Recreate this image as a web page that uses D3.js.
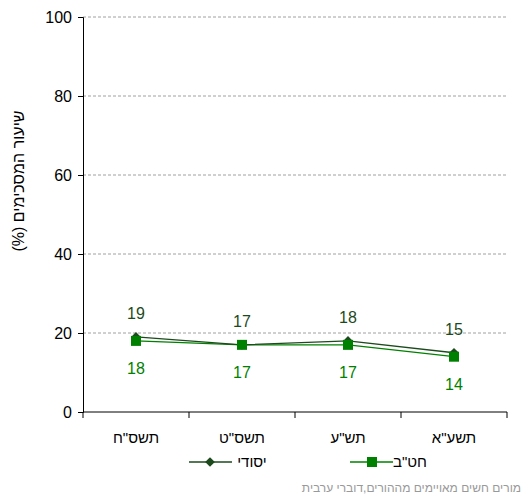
<!DOCTYPE html>
<html><head><meta charset="utf-8">
<script src="https://cdn.jsdelivr.net/npm/d3@7"></script>
<style>body{margin:0;background:#fff}text{font-family:"Liberation Sans",Arial,sans-serif}</style>
</head><body>
<svg id="c" width="524" height="496"></svg>
<script>
const categories = ["תשס\"ח", "תשס\"ט", "תש\"ע", "תשע\"א"];
const seriesNames = ["יסודי", "חט\"ב"];
const yesodi = [19, 17, 18, 15];
const hativa = [18, 17, 17, 14];
const yTicks = [0, 20, 40, 60, 80, 100];
const yTitle = "שיעור המסכימים (%)";
const footnote = "מורים חשים מאויימים מההורים,דוברי ערבית";

const darkC = "#1d4a1d", greenC = "#008000";
const svg = d3.select("#c");
const x = d3.scaleBand().domain(categories).range([83, 507]);
const y = d3.scaleLinear().domain([0, 100]).range([412, 17]);

// grid
svg.append("g").selectAll("line").data(yTicks.filter(d => d > 0)).join("line")
  .attr("x1", 83).attr("x2", 507).attr("y1", d => y(d)).attr("y2", d => y(d))
  .attr("stroke", "#a0a0a0").attr("stroke-dasharray", "3,2").attr("stroke-width", 1);

// y axis
const ya = svg.append("g").attr("transform", "translate(83,0)")
  .call(d3.axisLeft(y).tickValues(yTicks).tickSize(5).tickPadding(6));
ya.select(".domain").attr("stroke", "#000");
ya.selectAll("text").attr("font-size", 16).attr("fill", "#000").attr("font-family", "Liberation Sans, Arial, sans-serif");

// x axis
const xa = svg.append("g").attr("transform", "translate(0,412)");
xa.append("line").attr("x1", 83).attr("x2", 507).attr("stroke", "#000");
const bounds = categories.map(c => x(c)).concat([x(categories[categories.length-1]) + x.bandwidth()]);
xa.selectAll("line.t").data(bounds).join("line").attr("class","t")
  .attr("x1", d => d).attr("x2", d => d).attr("y1", 0).attr("y2", 6).attr("stroke", "#000");
xa.selectAll("text").data(categories).join("text")
  .attr("x", d => x(d) + x.bandwidth()/2).attr("y", 31).attr("text-anchor", "middle")
  .attr("font-size", 15).attr("fill", "#000").text(d => d);

// y title
svg.append("text").attr("transform", "translate(24,181) rotate(-90)").attr("text-anchor", "middle")
  .attr("direction", "rtl").attr("font-size", 16).attr("fill", "#000").text(yTitle);

const cx = d => x(d) + x.bandwidth()/2;
const line = d3.line().x((d,i) => cx(categories[i])).y(d => y(d));

// hativa (green squares)
svg.append("path").datum(hativa).attr("d", line).attr("fill", "none").attr("stroke", greenC).attr("stroke-width", 1.3);
// yesodi (dark diamonds)
svg.append("path").datum(yesodi).attr("d", line).attr("fill", "none").attr("stroke", darkC).attr("stroke-width", 1.3);

const diamond = d3.symbol().type(d3.symbolDiamond2).size(60);
svg.append("g").selectAll("path").data(yesodi).join("path")
  .attr("d", diamond).attr("transform", (d,i) => `translate(${cx(categories[i])},${y(d)})`).attr("fill", darkC);
svg.append("g").selectAll("rect").data(hativa).join("rect")
  .attr("x", (d,i) => cx(categories[i]) - 5).attr("y", d => y(d) - 5).attr("width", 10).attr("height", 10).attr("fill", greenC);

// labels
svg.append("g").selectAll("text").data(yesodi).join("text")
  .attr("x", (d,i) => cx(categories[i])).attr("y", d => y(d) - 18).attr("text-anchor", "middle")
  .attr("font-size", 16).attr("fill", darkC).text(d => d);
svg.append("g").selectAll("text").data(hativa).join("text")
  .attr("x", (d,i) => cx(categories[i])).attr("y", d => y(d) + 33).attr("text-anchor", "middle")
  .attr("font-size", 16).attr("fill", greenC).text(d => d);

// legend
const lg = svg.append("g");
lg.append("line").attr("x1", 189).attr("x2", 232).attr("y1", 462).attr("y2", 462).attr("stroke", darkC).attr("stroke-width", 1.5);
lg.append("path").attr("d", diamond).attr("transform", "translate(210,462)").attr("fill", darkC);
lg.append("text").attr("x", 252).attr("y", 467).attr("text-anchor", "middle").attr("font-size", 15).attr("fill", "#000").text(seriesNames[0]);
lg.append("line").attr("x1", 350).attr("x2", 393).attr("y1", 462).attr("y2", 462).attr("stroke", greenC).attr("stroke-width", 1.5);
lg.append("rect").attr("x", 367).attr("y", 457).attr("width", 10).attr("height", 10).attr("fill", greenC);
lg.append("text").attr("x", 410).attr("y", 467).attr("text-anchor", "middle").attr("font-size", 15).attr("fill", "#000").text(seriesNames[1]);

svg.append("text").attr("x", 521).attr("y", 492).attr("text-anchor", "end")
  .attr("font-size", 12).attr("fill", "#999").text(footnote);
</script>
</body></html>
